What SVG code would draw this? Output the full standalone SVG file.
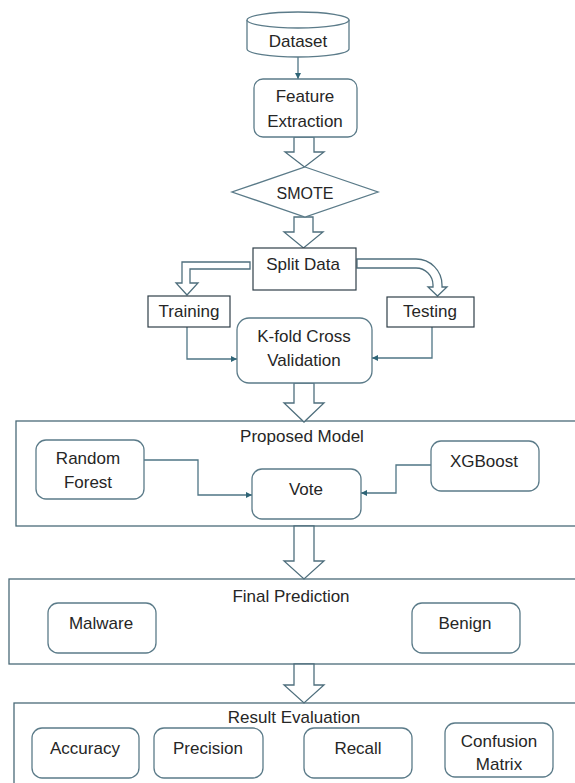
<svg xmlns="http://www.w3.org/2000/svg" width="575" height="783" viewBox="0 0 575 783">
<defs>
<style>
.t{font-family:"Liberation Sans",Arial,sans-serif;font-size:17px;fill:#262626;text-anchor:middle}
.n{fill:#fff;stroke:#5b7b89;stroke-width:1.3}
.sq{fill:#fff;stroke:#2f3f48;stroke-width:1.2}
.grp{fill:#fff;stroke:#4a6a78;stroke-width:1.3}
.blk{fill:#fff;stroke:#4f6f7d;stroke-width:1.3;stroke-linejoin:miter}
.ln{fill:none;stroke:#4f7585;stroke-width:1.3}
</style>
<marker id="ah" viewBox="0 0 8 8" refX="8" refY="4" markerWidth="6" markerHeight="6" markerUnits="userSpaceOnUse" orient="auto">
<path d="M0,0 L8,4 L0,8 Z" fill="#2f6577"/>
</marker>
</defs>
<rect width="575" height="783" fill="#fff"/>

<g id="proposed-model">
<rect class="grp" x="16" y="421" width="570" height="105"/>
<text class="t" x="302" y="442">Proposed Model</text>
</g>
<g id="final-prediction">
<rect class="grp" x="9" y="579" width="577" height="85"/>
<text class="t" x="291" y="602">Final Prediction</text>
</g>
<g id="result-evaluation">
<rect class="grp" x="14" y="703" width="572" height="90"/>
<text class="t" x="294" y="723">Result Evaluation</text>
</g>

<g id="connectors">
<line class="ln" x1="298" y1="57" x2="298" y2="79" marker-end="url(#ah)"/>
<path class="blk" d="M294,137 V152 H285 L304.5,167 L324,152 H314 V137 Z"/>
<path class="blk" d="M294,217 V232 H284 L303.5,248 L323,232 H313 V217 Z"/>
<path class="blk" d="M250,262 H182 V283 H176 L187,295 L198,283 H190 V269 H250 Z"/>
<path class="blk" d="M357,259 H416 A26,26 0 0 1 442,285 V287 H447 L437.5,296 L428,287 H433 V285 A17,17 0 0 0 416,268 H357 Z"/>
<polyline class="ln" points="187,327 187,359 237,359" marker-end="url(#ah)"/>
<polyline class="ln" points="432,327 432,358 372,358" marker-end="url(#ah)"/>
<path class="blk" d="M294,383 V403 H284 L304,422 L324,403 H314 V383 Z"/>
<polyline class="ln" points="144,460 198,460 198,495 252,495" marker-end="url(#ah)"/>
<polyline class="ln" points="431,465 396,465 396,493 361,493" marker-end="url(#ah)"/>
<path class="blk" d="M294,526 V561 H284 L304,579 L324,561 H314 V526 Z"/>
<path class="blk" d="M294,664 V685 H284 L304,703 L324,685 H314 V664 Z"/>
</g>

<g id="dataset">
<path class="n" d="M247,20 V49 A51,8 0 0 0 349,49 V20"/>
<ellipse class="n" cx="298" cy="20" rx="51" ry="8"/>
<text class="t" x="298" y="47">Dataset</text>
</g>
<g id="feature-extraction">
<rect class="n" x="254" y="79" width="103" height="58" rx="9"/>
<text class="t" x="305" y="102">Feature</text>
<text class="t" x="305" y="127">Extraction</text>
</g>
<g id="smote">
<polygon class="n" points="305,167 378,192 305,217 232,192"/>
<text class="t" x="305" y="199" style="font-size:16px">SMOTE</text>
</g>
<g id="split-data">
<rect class="sq" x="253" y="248" width="103" height="42"/>
<text class="t" x="303" y="270">Split Data</text>
</g>
<g id="training">
<rect class="sq" x="148" y="296" width="82" height="31"/>
<text class="t" x="189" y="317">Training</text>
</g>
<g id="testing">
<rect class="sq" x="387" y="297" width="87" height="30"/>
<text class="t" x="430" y="317">Testing</text>
</g>
<g id="kfold">
<rect class="n" x="237" y="318" width="135" height="65" rx="12"/>
<text class="t" x="304" y="342">K-fold Cross</text>
<text class="t" x="304" y="366">Validation</text>
</g>
<g id="random-forest">
<rect class="n" x="36" y="440" width="108" height="59" rx="10"/>
<text class="t" x="88" y="464">Random</text>
<text class="t" x="88" y="488">Forest</text>
</g>
<g id="vote">
<rect class="n" x="252" y="469" width="109" height="50" rx="10"/>
<text class="t" x="306" y="495">Vote</text>
</g>
<g id="xgboost">
<rect class="n" x="431" y="441" width="108" height="50" rx="10"/>
<text class="t" x="484" y="467">XGBoost</text>
</g>
<g id="malware">
<rect class="n" x="48" y="603" width="108" height="50" rx="10"/>
<text class="t" x="101" y="629">Malware</text>
</g>
<g id="benign">
<rect class="n" x="412" y="603" width="108" height="50" rx="10"/>
<text class="t" x="465" y="629">Benign</text>
</g>
<g id="accuracy">
<rect class="n" x="32" y="728" width="107" height="50" rx="10"/>
<text class="t" x="85" y="754">Accuracy</text>
</g>
<g id="precision">
<rect class="n" x="154" y="728" width="109" height="50" rx="10"/>
<text class="t" x="208" y="754">Precision</text>
</g>
<g id="recall">
<rect class="n" x="304" y="728" width="108" height="50" rx="10"/>
<text class="t" x="358" y="754">Recall</text>
</g>
<g id="confusion-matrix">
<rect class="n" x="445" y="723" width="108" height="54" rx="10"/>
<text class="t" x="499" y="747">Confusion</text>
<text class="t" x="499" y="770">Matrix</text>
</g>
</svg>
